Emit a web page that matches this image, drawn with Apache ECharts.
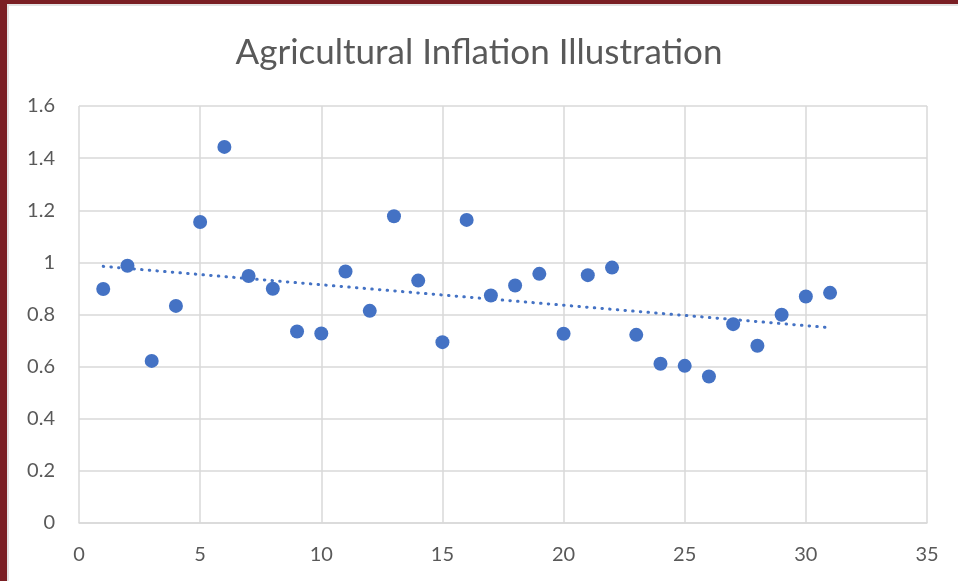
<!DOCTYPE html>
<html>
<head>
<meta charset="utf-8">
<script src="https://cdn.jsdelivr.net/npm/echarts@6/dist/echarts.min.js"></script>
<style>
  html, body { margin: 0; padding: 0; background: #ffffff; }
  #chart { position: absolute; left: 0; top: 0; width: 958px; height: 581px; }
  .frameTop { position: absolute; left: 0; top: 0; width: 958px; height: 4px; background: #7a1f24; }
  .frameTop2 { position: absolute; left: 7px; top: 4px; width: 951px; height: 2px; background: #e3e3e3; }
  .frameLeft { position: absolute; left: 0; top: 0; width: 7px; height: 581px; background: #7a1f24; }
  .frameLeft2 { position: absolute; left: 7px; top: 4px; width: 2px; height: 577px; background: #e3e3e3; }
</style>
</head>
<body>
<div id="chart"></div>
<div class="frameTop"></div>
<div class="frameLeft"></div>
<div class="frameTop2"></div>
<div class="frameLeft2"></div>
<script>
const titleText = "Agricultural Inflation Illustration";
const xValues = [1,2,3,4,5,6,7,8,9,10,11,12,13,14,15,16,17,18,19,20,21,22,23,24,25,26,27,28,29,30,31];
const yValues = [0.898,0.987,0.622,0.833,1.155,1.443,0.948,0.899,0.735,0.727,
                 0.965,0.814,1.177,0.930,0.694,1.163,0.873,0.911,0.956,0.726,
                 0.951,0.980,0.722,0.611,0.603,0.562,0.763,0.680,0.799,0.869,0.883];
const xTicks = [0,5,10,15,20,25,30,35];
const yTicks = [0,0.2,0.4,0.6,0.8,1,1.2,1.4,1.6];

// Linear trendline (least squares) computed from the data
const n = xValues.length;
let sx = 0, sy = 0, sxx = 0, sxy = 0;
for (let i = 0; i < n; i++) {
  sx += xValues[i]; sy += yValues[i];
  sxx += xValues[i] * xValues[i]; sxy += xValues[i] * yValues[i];
}
const slope = (n * sxy - sx * sy) / (n * sxx - sx * sx);
const intercept = (sy - slope * sx) / n;
const xFirst = xValues[0], xLast = xValues[n - 1];
const trend = [[xFirst, intercept + slope * xFirst], [xLast, intercept + slope * xLast]];

const points = xValues.map((x, i) => [x, yValues[i]]);
const labelColor = '#595959';
const gridColor = '#d9d9d9';
const font = 'Lato, "Open Sans", sans-serif';

const chart = echarts.init(document.getElementById('chart'), null, { renderer: 'canvas' });
chart.setOption({
  backgroundColor: 'transparent',
  animation: false,
  title: {
    text: titleText,
    left: 'center',
    top: 30,
    textStyle: { color: labelColor, fontSize: 35, fontWeight: 'normal', fontFamily: font }
  },
  grid: { left: 79, right: 31, top: 106, bottom: 58, containLabel: false },
  xAxis: {
    type: 'value',
    min: xTicks[0], max: xTicks[xTicks.length - 1], interval: 5,
    axisLine: { show: true, lineStyle: { color: gridColor, width: 1.5 } },
    axisTick: { show: false },
    axisLabel: { color: labelColor, fontSize: 20, fontFamily: font, margin: 22 },
    splitLine: { show: true, lineStyle: { color: gridColor, width: 1.5 } }
  },
  yAxis: {
    type: 'value',
    min: yTicks[0], max: yTicks[yTicks.length - 1], interval: 0.2,
    axisLine: { show: false },
    axisTick: { show: false },
    axisLabel: { color: labelColor, fontSize: 20, fontFamily: font, margin: 24,
                 formatter: v => String(Math.round(v * 10) / 10) },
    splitLine: { show: true, lineStyle: { color: gridColor, width: 1.5 } }
  },
  series: [
    {
      type: 'line',
      data: trend,
      showSymbol: false,
      symbol: 'none',
      lineStyle: { color: '#4472c4', width: 3, type: [0.5, 7.2], cap: 'round' },
      z: 1
    },
    {
      type: 'scatter',
      data: points,
      symbol: 'circle',
      symbolSize: 14,
      itemStyle: { color: '#4472c4', opacity: 1 },
      z: 2
    }
  ]
});
</script>
</body>
</html>
